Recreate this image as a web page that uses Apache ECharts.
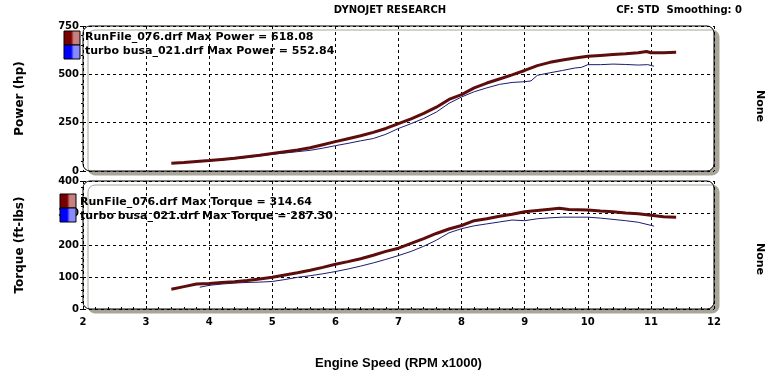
<!DOCTYPE html>
<html><head><meta charset="utf-8">
<script src="https://cdn.jsdelivr.net/npm/echarts@6/dist/echarts.min.js"></script>
<style>html,body{margin:0;padding:0;background:#fff}#c{width:781px;height:380px}</style>
</head><body><div id="c"></div>
<script>
// ---- data ----
const xTicks = [2,3,4,5,6,7,8,9,10,11,12];
const powerTicks = [0,250,500,750];
const torqueTicks = [0,100,200,300,400];

const runRpmP = [3.40,3.60,3.80,4.00,4.20,4.40,4.60,4.80,5.00,5.20,5.40,5.60,5.80,6.00,6.20,6.40,6.60,6.80,7.00,7.20,7.40,7.60,7.80,8.00,8.20,8.40,8.60,8.80,9.00,9.20,9.40,9.60,9.80,10.00,10.20,10.40,10.60,10.80,10.93,11.00,11.20,11.40];
const runPower = [40,44,49,54,60,66,74,82,91,100,109,120,136,152,167,182,200,220,245,270,298,330,370,395,430,455,476,497,520,545,562,574,584,593,598,603,607,612,618,612,612,614];

const busaRpmP = [3.85,4.00,4.20,4.40,4.60,4.80,5.00,5.20,5.40,5.60,5.80,6.00,6.20,6.40,6.60,6.80,7.00,7.20,7.40,7.60,7.80,8.00,8.20,8.40,8.60,8.80,9.00,9.10,9.20,9.40,9.60,9.80,9.90,10.00,10.20,10.40,10.60,10.80,10.95,11.05];
const busaPower = [48,52,57,63,70,78,87,93,100,107,118,131,143,156,168,190,220,245,272,305,350,383,410,430,448,458,462,466,495,508,520,533,536,550,550,553,551,548,550,542];

const runRpmT = [3.40,3.60,3.80,4.00,4.20,4.40,4.60,4.80,5.00,5.20,5.40,5.60,5.80,6.00,6.20,6.40,6.60,6.80,7.00,7.20,7.40,7.60,7.80,8.00,8.20,8.40,8.60,8.80,9.00,9.20,9.40,9.55,9.70,9.85,10.00,10.20,10.40,10.60,10.80,11.00,11.20,11.40];
const runTorque = [62,70,78,80,83,85,89,94,99,106,113,121,130,140,148,157,168,180,190,205,220,236,250,261,276,282,290,296,304,308,312,315,311,310,309,306,304,300,298,293,288,287];

const busaRpmT = [3.85,4.00,4.20,4.40,4.60,4.80,5.00,5.20,5.40,5.60,5.80,6.00,6.20,6.40,6.60,6.80,7.00,7.20,7.40,7.60,7.80,8.00,8.20,8.40,8.60,8.80,9.00,9.20,9.40,9.60,9.80,10.00,10.20,10.40,10.60,10.80,11.05];
const busaTorque = [68,74,78,81,83,84,86,92,99,104,110,117,125,134,144,155,167,180,196,215,238,251,260,266,272,278,276,282,285,287,287,287,284,280,276,271,259];

const legendPower = ["RunFile_076.drf Max Power = 618.08","turbo busa_021.drf Max Power = 552.84"];
const legendTorque = ["RunFile_076.drf Max Torque = 314.64","turbo busa_021.drf Max Torque = 287.30"];

// ---- chart ----
const zip = (a,b)=>a.map((v,i)=>[v,b[i]]);
const chart = echarts.init(document.getElementById('c'), null, {renderer:'canvas'});
const G = [{left:83, right:67, top:26, height:145},{left:83, right:67, top:181, height:128}];
const W = 781 - 83 - 67;
const labelFont = {fontFamily:'DejaVu Sans', fontWeight:'bold', fontSize:10, color:'#000'};
const grid = {show:true, lineStyle:{type:[3,3], color:'#000', width:1}};
const RED = '#5e0d0d', BLUE = '#1c1c70';

function frame(g){
  return {type:'rect', z:-10, shape:{x:g.left, y:g.top, width:W, height:g.height, r:7},
    style:{fill:'#fff', stroke:'#000', lineWidth:1, shadowColor:'#a8a498', shadowOffsetX:5, shadowOffsetY:4, shadowBlur:0}};
}
function swatch(x,y,dark,light){
  return {type:'rect', z:20, shape:{x:x, y:y, width:16, height:14},
    style:{fill:{type:'linear',x:0,y:0,x2:1,y2:0,colorStops:[{offset:0,color:dark},{offset:0.45,color:dark},{offset:0.6,color:light},{offset:1,color:light}]}, stroke:'#000', lineWidth:1}};
}
function txt(x,y,t,o,extra){
  return Object.assign({type:'text', z:20, x:x, y:y, style:Object.assign({text:t, fill:'#000', font:'bold 11px "DejaVu Sans"', textVerticalAlign:'middle'}, o||{})}, extra||{});
}

chart.setOption({
  animation:false,
  grid:G,
  xAxis:[
    {gridIndex:0, type:'value', min:2, max:12, interval:1, axisLine:{show:false}, axisTick:{show:false}, axisLabel:{show:false}, splitLine:grid},
    {gridIndex:1, type:'value', min:2, max:12, interval:1, axisLine:{show:false},
     axisTick:{show:true, length:3, inside:true, lineStyle:{color:'#000'}},
     minorTick:{show:true, splitNumber:5, length:2, lineStyle:{color:'#000'}},
     axisLabel:Object.assign({margin:8, fontFamily:'DejaVu Serif'}, labelFont), splitLine:grid,
     name:'Engine Speed (RPM x1000)', nameLocation:'middle', nameGap:48,
     nameTextStyle:{fontFamily:'Liberation Sans', fontWeight:'bold', fontSize:13, color:'#000'}}
  ],
  yAxis:[
    {gridIndex:0, type:'value', min:0, max:750, interval:250, axisLine:{show:false},
     axisTick:{show:true, length:3, lineStyle:{color:'#000'}},
     minorTick:{show:true, splitNumber:5, length:2, lineStyle:{color:'#000'}},
     axisLabel:Object.assign({margin:4, fontFamily:'DejaVu Serif'}, labelFont), splitLine:grid,
     name:'Power (hp)', nameLocation:'middle', nameGap:57, nameRotate:90,
     nameTextStyle:{fontFamily:'DejaVu Sans', fontWeight:'bold', fontSize:12, color:'#000'}},
    {gridIndex:1, type:'value', min:0, max:400, interval:100, axisLine:{show:false},
     axisTick:{show:true, length:3, lineStyle:{color:'#000'}},
     minorTick:{show:true, splitNumber:5, length:2, lineStyle:{color:'#000'}},
     axisLabel:Object.assign({margin:4, fontFamily:'DejaVu Serif'}, labelFont), splitLine:grid,
     name:'Torque (ft-lbs)', nameLocation:'middle', nameGap:57, nameRotate:90,
     nameTextStyle:{fontFamily:'DejaVu Sans', fontWeight:'bold', fontSize:12, color:'#000'}}
  ],
  series:[
    {type:'line', xAxisIndex:0, yAxisIndex:0, data:zip(busaRpmP,busaPower), showSymbol:false, lineStyle:{color:BLUE, width:1}, z:3},
    {type:'line', xAxisIndex:0, yAxisIndex:0, data:zip(runRpmP,runPower), showSymbol:false, lineStyle:{color:RED, width:3}, z:4},
    {type:'line', xAxisIndex:1, yAxisIndex:1, data:zip(busaRpmT,busaTorque), showSymbol:false, lineStyle:{color:BLUE, width:1}, z:3},
    {type:'line', xAxisIndex:1, yAxisIndex:1, data:zip(runRpmT,runTorque), showSymbol:false, lineStyle:{color:RED, width:3}, z:4}
  ],
  graphic:[
    frame(G[0]), frame(G[1]),
    txt(390,10,'DYNOJET RESEARCH',{textAlign:'center', font:'bold 10px "DejaVu Sans"'}),
    txt(742,10,'CF: STD  Smoothing: 0',{textAlign:'right', font:'bold 10px "DejaVu Sans"'}),
    txt(760,106,'None',{textAlign:'center', font:'bold 11px "DejaVu Sans"'},{rotation:-Math.PI/2}),
    txt(760,259,'None',{textAlign:'center', font:'bold 11px "DejaVu Sans"'},{rotation:-Math.PI/2}),
    swatch(64,31,'#7a0000','#c88080'), swatch(64,45,'#0000ff','#8a8aff'),
    txt(85,37,legendPower[0]), txt(85,51,legendPower[1]),
    swatch(60,194,'#7a0000','#c88080'), swatch(60,208,'#0000ff','#8a8aff'),
    txt(80,202,legendTorque[0]), txt(80,216,legendTorque[1])
  ]
});
</script></body></html>
